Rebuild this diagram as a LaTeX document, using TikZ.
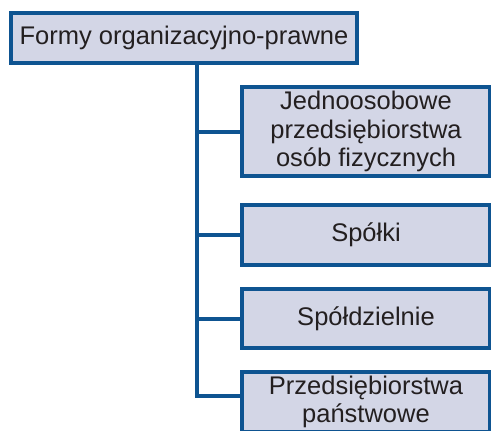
\documentclass[tikz,border=0pt]{standalone}
\usepackage{fontspec}
\setmainfont{Liberation Sans}
\definecolor{boxblue}{RGB}{14,84,145}
\definecolor{boxfill}{RGB}{211,214,230}
\definecolor{txt}{RGB}{35,31,32}
\tikzset{
  formbox/.style={draw=boxblue, fill=boxfill, line width=4pt, inner sep=0pt,
    align=center, text=txt, font=\fontsize{25.5}{28.3}\selectfont},
  sidebox/.style={formbox, minimum width=248pt},
  link/.style={draw=boxblue, line width=4pt}
}
\begin{document}
\begin{tikzpicture}[x=1pt,y=-1pt]
\useasboundingbox (0,0) rectangle (491,431);
\clip (0,0) rectangle (491,431);
\node[formbox, minimum width=346pt, minimum height=50pt] (top) at (184,38) {Formy organizacyjno-prawne};
\node[sidebox, minimum height=89pt] (b1) at (366,131.5) {Jednoosobowe\\przedsiębiorstwa\\osób fizycznych};
\node[sidebox, minimum height=60pt] (b2) at (366,235) {Spółki};
\node[sidebox, minimum height=59pt] (b3) at (366,318.5) {Spółdzielnie};
\node[sidebox, minimum height=60pt] (b4) at (366,402) {Przedsiębiorstwa\\państwowe};
\coordinate (trunk) at (196.5,65);
\coordinate (b4in) at ([yshift=6.5pt]b4.west);
\draw[link] (trunk) |- (b1.west);
\draw[link] (trunk) |- (b2.west);
\draw[link] (trunk) |- (b3.west);
\draw[link] (trunk) |- (b4in);
\end{tikzpicture}
\end{document}
